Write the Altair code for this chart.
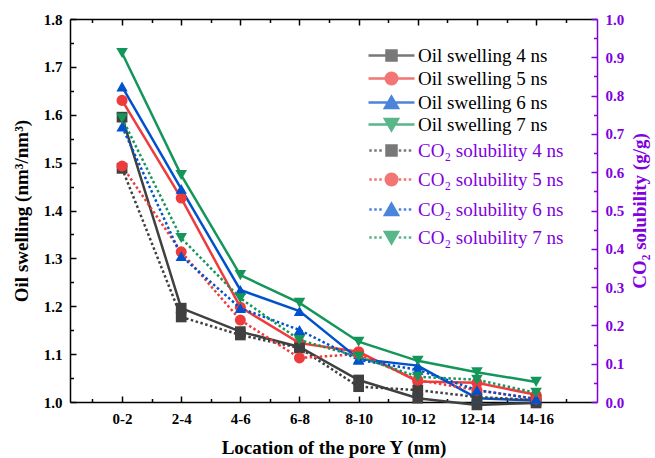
import json
import altair as alt
import pandas as pd

# ---------------- data ----------------
categories = ["0-2", "2-4", "4-6", "6-8", "8-10", "10-12", "12-14", "14-16"]
times = ["4 ns", "5 ns", "6 ns", "7 ns"]

oil_4 = [1.595, 1.196, 1.147, 1.115, 1.046, 1.008, 0.994, 0.998]
oil_5 = [1.630, 1.426, 1.198, 1.123, 1.105, 1.043, 1.040, 1.015]
oil_6 = [1.659, 1.445, 1.234, 1.190, 1.090, 1.076, 1.008, 1.003]
oil_7 = [1.729, 1.474, 1.265, 1.207, 1.126, 1.086, 1.062, 1.042]

co2_4 = [0.610, 0.222, 0.175, 0.141, 0.040, 0.031, 0.013, 0.005]
co2_5 = [0.616, 0.392, 0.214, 0.115, 0.125, 0.057, 0.031, 0.008]
co2_6 = [0.719, 0.381, 0.245, 0.188, 0.110, 0.084, 0.031, 0.008]
co2_7 = [0.741, 0.428, 0.271, 0.162, 0.118, 0.066, 0.058, 0.024]

oil_names = [f"Oil swelling {t}" for t in times]
co2_names = [f"CO\u2082 solubility {t}" for t in times]

# ---------------- styles ----------------
series_colors = ["#404040", "#EE3B3B", "#0052CC", "#14965A"]
purple = "#8000E0"
shapes = ["square", "circle", "triangle-up", "triangle-down"]
sizes = [115, 135, 170, 170]
FONT = "'Liberation Serif', 'Times New Roman', Times, serif"
W, H = 527, 383
X_DOMAIN = [0.12, 9.03]


def build(names, series_vals):
    rows = []
    for name, vals in zip(names, series_vals):
        for i, (c, v) in enumerate(zip(categories, vals)):
            rows.append({"series": name, "pos": i + 1, "cat": c, "value": v})
    return pd.DataFrame(rows)


oil_df = build(oil_names, [oil_4, oil_5, oil_6, oil_7])
co2_df = build(co2_names, [co2_4, co2_5, co2_6, co2_7])

x_scale = alt.Scale(domain=X_DOMAIN, nice=False, zero=False)
oil_scale = alt.Scale(domain=[1.0, 1.8], nice=False, zero=False)
co2_scale = alt.Scale(domain=[0.0, 1.0], nice=False, zero=False)

x_major = list(range(1, 9))
x_minor = [i + 0.5 for i in range(0, 9)]
oil_major = [round(1.0 + 0.1 * i, 2) for i in range(9)]
oil_minor = [round(1.05 + 0.1 * i, 3) for i in range(8)]
co2_major = [round(0.1 * i, 2) for i in range(11)]
co2_minor = [round(0.05 + 0.1 * i, 3) for i in range(10)]


def tick_axis(orient, offset, values, size, color="black"):
    return alt.Axis(orient=orient, offset=offset, values=values, labels=False,
                    domain=False, ticks=True, tickSize=size, tickWidth=1.5,
                    tickColor=color, grid=False, title=None)


label_expr = json.dumps(categories) + "[datum.value - 1]"

x_bottom = alt.Axis(orient="bottom", values=x_major, labelExpr=label_expr,
                    ticks=False, tickSize=0, domain=True, domainColor="black",
                    domainWidth=1.5, labelPadding=9, labelFontSize=15,
                    labelFontWeight="bold", labelColor="black", labelFont=FONT,
                    title="Location of the pore Y (nm)", titlePadding=12,
                    titleFontSize=19, titleFontWeight="bold", titleFont=FONT,
                    titleColor="black", grid=False, labelFlush=False)
x_top_border = alt.Axis(orient="bottom", offset=-H, values=x_major, labels=False,
                        domain=True, domainColor="black", domainWidth=1.5,
                        ticks=True, tickSize=6, tickWidth=1.5, tickColor="black",
                        grid=False, title=None)

y_left = alt.Axis(orient="left", values=oil_major, format=".1f", ticks=False,
                  tickSize=0, domain=True, domainColor="black", domainWidth=1.5,
                  labelPadding=8, labelFontSize=15, labelFontWeight="bold",
                  labelColor="black", labelFont=FONT,
                  title="Oil swelling (nm\u00b3/nm\u00b3)", titlePadding=12,
                  titleFontSize=19, titleFontWeight="bold", titleFont=FONT,
                  titleColor="black", grid=False)
y_right = alt.Axis(orient="right", values=co2_major, format=".1f", ticks=False,
                   tickSize=0, domain=True, domainColor=purple, domainWidth=1.5,
                   labelPadding=8, labelFontSize=15, labelFontWeight="bold",
                   labelColor=purple, labelFont=FONT,
                   title="CO\u2082 solubility (g/g)", titlePadding=7,
                   titleAngle=270, titleBaseline="top",
                   titleFontSize=19, titleFontWeight="bold", titleFont=FONT,
                   titleColor=purple, grid=False)

oil_color = alt.Color("series:N", scale=alt.Scale(domain=oil_names, range=series_colors), legend=None)
co2_color = alt.Color("series:N", scale=alt.Scale(domain=co2_names, range=series_colors), legend=None)
oil_shape = alt.Shape("series:N", scale=alt.Scale(domain=oil_names, range=shapes), legend=None)
co2_shape = alt.Shape("series:N", scale=alt.Scale(domain=co2_names, range=shapes), legend=None)
oil_size = alt.Size("series:N", scale=alt.Scale(domain=oil_names, range=sizes), legend=None)
co2_size = alt.Size("series:N", scale=alt.Scale(domain=co2_names, range=sizes), legend=None)

# 1. oil swelling lines (left axis + bottom axis)
l1 = alt.Chart(oil_df).mark_line(strokeWidth=2.5).encode(
    x=alt.X("pos:Q", scale=x_scale, axis=x_bottom),
    y=alt.Y("value:Q", scale=oil_scale, axis=y_left),
    color=oil_color, detail="series:N",
)
# 2. oil swelling markers (inner ticks on left / bottom)
l2 = alt.Chart(oil_df).mark_point(filled=True, opacity=1).encode(
    x=alt.X("pos:Q", scale=x_scale, axis=tick_axis("top", -H, x_major, 6)),
    y=alt.Y("value:Q", scale=oil_scale, axis=tick_axis("right", -W, oil_major, 6)),
    color=oil_color, shape=oil_shape, size=oil_size,
)
# 3. CO2 solubility dotted lines (right axis + top border)
l3 = alt.Chart(co2_df).mark_line(strokeWidth=2.5, strokeDash=[2.5, 2.5]).encode(
    x=alt.X("pos:Q", scale=x_scale, axis=x_top_border),
    y=alt.Y("value:Q", scale=co2_scale, axis=y_right),
    color=co2_color, detail="series:N",
)
# 4. CO2 markers
l4 = alt.Chart(co2_df).mark_point(filled=True, opacity=1).encode(
    x=alt.X("pos:Q", scale=x_scale, axis=tick_axis("top", -H, x_minor, 3.5)),
    y=alt.Y("value:Q", scale=co2_scale, axis=tick_axis("left", -W, co2_major, 6, purple)),
    color=co2_color, shape=co2_shape, size=co2_size,
)
# 5/6. minor tick carriers
l5 = alt.Chart(oil_df).mark_point(opacity=0).encode(
    x=alt.X("pos:Q", scale=x_scale, axis=tick_axis("bottom", -H, x_minor, 3.5)),
    y=alt.Y("value:Q", scale=oil_scale, axis=tick_axis("right", -W, oil_minor, 3.5)),
)
l6 = alt.Chart(co2_df).mark_point(opacity=0).encode(
    x=alt.X("pos:Q", scale=x_scale, axis=None),
    y=alt.Y("value:Q", scale=co2_scale, axis=tick_axis("left", -W, co2_minor, 3.5, purple)),
)


# 7/8. legends (symbol = line segment + marker)
def marker_path(kind, dotted):
    if dotted:
        segs = ""
        for c in [-4.2, -3.2, -2.2, 1.7, 2.7, 3.7]:
            segs += f"M{c - 0.25:.2f},0H{c + 0.25:.2f}"
    else:
        segs = "M-4.6,0H4.6"
    if kind == "square":
        m = "M-1,-1H1V1H-1Z"
    elif kind == "circle":
        m = "M-1.15,0A1.15,1.15,0,1,0,1.15,0A1.15,1.15,0,1,0,-1.15,0Z"
    elif kind == "triangle-up":
        m = "M0,-1.15L-1.3,1.1L1.3,1.1Z"
    else:
        m = "M0,1.15L-1.3,-1.1L1.3,-1.1Z"
    return segs + m


def legend_layer(names, dotted, label_color, lx, ly, row_pad):
    leg = alt.Legend(orient="none", legendX=lx, legendY=ly, title=None,
                     direction="vertical", padding=0, symbolSize=100,
                     symbolStrokeWidth=2.5, labelFont=FONT, labelFontSize=19,
                     labelColor=label_color, labelOffset=17, rowPadding=row_pad,
                     labelLimit=400)
    paths = [marker_path(s, dotted) for s in shapes]
    ldf = pd.DataFrame({"series": names})
    return alt.Chart(ldf).mark_point(filled=True, strokeWidth=2.5).encode(
        color=alt.Color("series:N", scale=alt.Scale(domain=names, range=series_colors), legend=leg),
        stroke=alt.Stroke("series:N", scale=alt.Scale(domain=names, range=series_colors), legend=leg),
        shape=alt.Shape("series:N", scale=alt.Scale(domain=names, range=paths), legend=leg),
    ).transform_filter("false")


l7 = legend_layer(oil_names, False, "black", 312, 27, 1)
l8 = legend_layer(co2_names, True, purple, 312, 122, 7)

chart = alt.layer(l1, l2, l3, l4, l5, l6, l7, l8).resolve_scale(
    y="independent", color="independent", shape="independent",
    stroke="independent", size="independent",
).resolve_axis(x="independent", y="independent").properties(
    width=W, height=H,
    autosize=alt.AutoSizeParams(type="none"),
    padding={"left": 70, "top": 19, "right": 58, "bottom": 56},
    background="white",
).configure_view(stroke=None).configure_axis(labelFlush=False, labelOverlap=False)

chart.save("out.html", embed_options={"renderer": "svg", "actions": False})
